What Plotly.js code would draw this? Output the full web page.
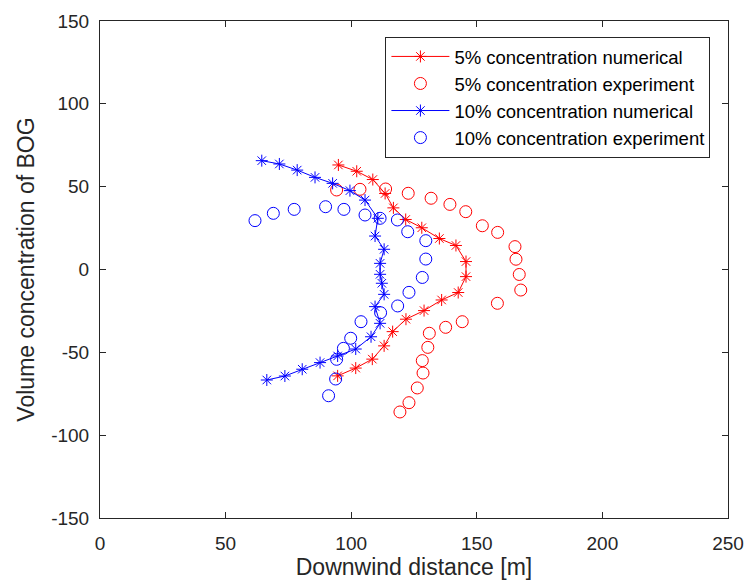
<!DOCTYPE html>
<html>
<head>
<meta charset="utf-8">
<script src="https://cdn.plot.ly/plotly-3.0.1.min.js"></script>
<style>
html,body{margin:0;padding:0;background:#fff;}
#chart{width:745px;height:581px;}
</style>
</head>
<body>
<div id="chart"></div>
<script>
// 5% concentration numerical
var num5X = [94.9, 102.2, 108.6, 113.5, 116.8, 121.7, 128.1, 135.1, 141.7, 145.7, 145.7, 142.6, 136.0, 129.0, 121.8, 116.5, 113.1, 108.4, 101.8, 94.6];
var num5Y = [63.1, 59.3, 54.3, 45.9, 37.2, 30.2, 25.2, 18.7, 14.5, 4.8, -4.3, -13.9, -18.4, -24.8, -30.0, -37.5, -46.1, -54.1, -59.5, -64.2];
// 5% concentration experiment
var exp5X = [94.2, 103.5, 113.7, 122.7, 131.8, 139.3, 145.6, 152.2, 158.3, 165.2, 165.6, 166.9, 167.5, 158.2, 144.2, 137.6, 131.1, 130.5, 128.3, 128.6, 126.3, 123.0, 119.4];
var exp5Y = [48.0, 48.4, 48.6, 46.0, 43.0, 39.3, 34.9, 26.4, 22.4, 13.8, 6.2, -3.0, -12.4, -20.4, -31.5, -34.9, -38.5, -47.0, -55.0, -62.5, -71.5, -80.4, -86.0];
// 10% concentration numerical
var num10X = [64.4, 71.4, 78.5, 85.6, 92.6, 99.5, 105.5, 110.6, 109.5, 113.1, 111.5, 111.5, 112.2, 113.1, 109.5, 111.5, 107.9, 101.8, 94.6, 87.6, 80.5, 73.6, 66.4];
var num10Y = [65.7, 63.7, 60.0, 55.6, 52.0, 47.6, 41.9, 30.9, 20.2, 12.2, 3.7, -2.9, -8.3, -15.0, -22.4, -32.5, -40.6, -48.0, -52.2, -56.2, -60.2, -64.3, -66.7];
// 10% concentration experiment
var exp10X = [61.7, 69.0, 77.3, 89.8, 97.1, 105.5, 111.5, 118.4, 122.5, 129.7, 129.7, 128.3, 123.0, 118.5, 111.7, 103.9, 99.8, 96.9, 94.2, 93.8, 91.0];
var exp10Y = [29.5, 33.9, 36.3, 37.9, 36.3, 32.9, 30.9, 29.9, 22.8, 17.4, 6.3, -4.8, -13.8, -22.0, -26.1, -31.5, -41.5, -47.6, -54.2, -66.1, -76.2];

var seriesNames = ['5% concentration numerical', '5% concentration experiment', '10% concentration numerical', '10% concentration experiment'];
var xTicks = [0, 50, 100, 150, 200, 250];
var yTicks = [-150, -100, -50, 0, 50, 100, 150];

var RED = '#ff0000', BLUE = '#0000ff';
function starTrace(x, y, name, c) {
  return {x: x, y: y, name: name, type: 'scatter', mode: 'lines+markers',
    line: {color: c, width: 1},
    marker: {symbol: 'asterisk-open', size: 10, color: c, line: {color: c, width: 1}}};
}
function circTrace(x, y, name, c) {
  return {x: x, y: y, name: name, type: 'scatter', mode: 'markers',
    marker: {symbol: 'circle-open', size: 12, color: c, line: {color: c, width: 1}}};
}
var data = [
  starTrace(num5X, num5Y, seriesNames[0], RED),
  circTrace(exp5X, exp5Y, seriesNames[1], RED),
  starTrace(num10X, num10Y, seriesNames[2], BLUE),
  circTrace(exp10X, exp10Y, seriesNames[3], BLUE)
];
var FONT = 'Liberation Sans, Arial, Helvetica, sans-serif';
var axisCommon = {
  showgrid: false, zeroline: false, showline: true, linecolor: '#262626', linewidth: 1,
  mirror: 'ticks', ticks: 'inside', ticklen: 6, tickcolor: '#262626', tickwidth: 1,
  tickfont: {family: FONT, size: 19, color: '#262626'}
};
var layout = {
  width: 745, height: 581,
  margin: {l: 100, r: 17, t: 21, b: 63},
  paper_bgcolor: '#fff', plot_bgcolor: '#fff',
  font: {family: FONT, color: '#262626'},
  xaxis: Object.assign({}, axisCommon, {
    range: [0, 250], tickvals: xTicks, ticktext: xTicks.map(String),
    ticklabelstandoff: 8,
    title: {text: 'Downwind distance [m]', font: {family: FONT, size: 23, color: '#262626'}, standoff: 4}
  }),
  yaxis: Object.assign({}, axisCommon, {
    range: [-150, 150], tickvals: yTicks, ticktext: yTicks.map(String),
    ticklabelstandoff: 6,
    title: {text: 'Volume concentration of BOG', font: {family: FONT, size: 23, color: '#262626'}, standoff: 10}
  }),
  legend: {
    x: 0.972, xanchor: 'right', y: 0.968, yanchor: 'top',
    bgcolor: '#fff', bordercolor: '#262626', borderwidth: 1,
    font: {family: FONT, size: 18.5, color: '#000'},
    itemwidth: 58, tracegroupgap: 0
  },
  showlegend: true
};
Plotly.newPlot('chart', data, layout, {displayModeBar: false, staticPlot: true});
</script>
</body>
</html>
